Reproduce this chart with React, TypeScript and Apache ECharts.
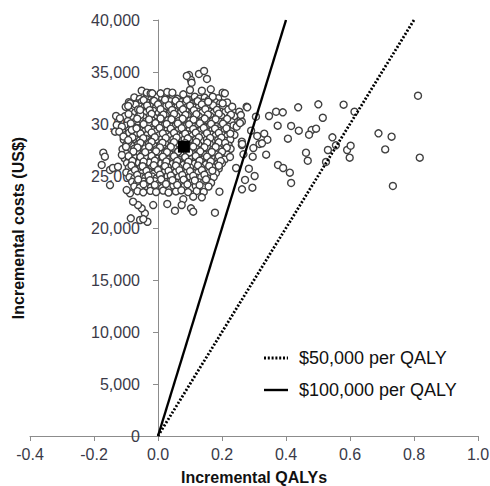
import React, { useEffect, useRef } from "react";
import * as echarts from "echarts";

// Axis ticks
const xMin = -0.4;
const xMax = 1.0;
const xStep = 0.2;
const yMin = 0;
const yMax = 40000;
const yStep = 5000;

// Willingness-to-pay thresholds (US$ per QALY)
const thresholdNames = ["$50,000 per QALY", "$100,000 per QALY"];
const thresholdValues = [50000, 100000];

// Mean incremental result
const meanPoint: [number, number] = [0.081, 27820];

// Dense core of the simulation cloud [incremental QALYs, incremental cost]
const coreA: [number, number][] = [
  [-0.074,32560],[-0.057,32410],[-0.036,32530],[-0.021,32380],[-0.003,32600],[0.013,32450],[0.031,32330],[0.047,32580],[0.06,32420],[0.082,32510],[0.095,32360],[0.115,32620],[0.131,32440],[0.146,32540],[0.167,32390],[0.188,32480],
  [-0.091,32100],[-0.066,31970],[-0.051,32130],[-0.03,32010],[-0.016,32160],[0.006,31950],[0.019,32080],[0.039,32190],[0.053,31990],[0.073,32110],[0.086,32020],[0.107,31930],[0.12,32150],[0.142,32040],[0.156,31960],[0.178,32120],[0.194,31980],[0.216,32070],
  [-0.101,31650],[-0.08,31520],[-0.058,31680],[-0.044,31560],[-0.023,31710],[-0.009,31490],[0.012,31620],[0.026,31740],[0.047,31540],[0.061,31660],[0.082,31500],[0.094,31700],[0.115,31580],[0.128,31650],[0.15,31530],[0.165,31690],[0.186,31570],[0.203,31640],
  [-0.087,31200],[-0.072,31080],[-0.05,31230],[-0.036,31110],[-0.015,31270],[0.002,31050],[0.016,31190],[0.038,31090],[0.052,31240],[0.072,31120],[0.087,31260],[0.106,31040],[0.124,31180],[0.138,31100],[0.159,31220],[0.174,31070],[0.195,31190],[0.21,31130],[0.234,31210],
  [-0.104,30740],[-0.082,30640],[-0.06,30770],[-0.046,30660],[-0.025,30800],[-0.012,30610],[0.01,30720],[0.024,30830],[0.045,30650],[0.058,30760],[0.08,30600],[0.093,30790],[0.114,30680],[0.128,30740],[0.15,30620],[0.163,30780],[0.185,30670],[0.198,30730],[0.222,30640],[0.238,30760],
  [-0.094,30290],[-0.074,30180],[-0.053,30320],[-0.039,30210],[-0.018,30350],[-0.004,30160],[0.018,30270],[0.032,30380],[0.053,30200],[0.066,30310],[0.088,30150],[0.101,30340],[0.122,30230],[0.136,30290],[0.158,30170],[0.172,30330],[0.194,30220],[0.208,30280],[0.23,30190],
  [-0.099,29840],[-0.084,29730],[-0.062,29870],[-0.049,29760],[-0.028,29900],[-0.014,29710],[0.008,29820],[0.022,29930],[0.043,29750],[0.056,29860],[0.078,29700],[0.091,29890],[0.112,29780],[0.126,29840],[0.148,29720],[0.162,29880],[0.184,29770],[0.198,29830],[0.221,29740],[0.236,29860],
  [-0.091,29390],[-0.076,29280],[-0.054,29420],[-0.041,29310],[-0.019,29450],[-0.006,29260],[0.016,29370],[0.03,29480],[0.051,29300],[0.064,29410],[0.086,29250],[0.099,29440],[0.12,29330],[0.134,29390],[0.156,29270],[0.17,29430],[0.192,29320],[0.208,29380],[0.228,29290],
];

const coreB: [number, number][] = [
  [-0.101,28940],[-0.08,28830],[-0.066,28970],[-0.045,28860],[-0.032,29000],[-0.01,28810],[0.004,28920],[0.026,29030],[0.039,28850],[0.06,28960],[0.074,28800],[0.095,28990],[0.108,28880],[0.13,28940],[0.144,28820],[0.166,28980],[0.18,28870],[0.202,28930],[0.216,28840],[0.239,28960],
  [-0.107,28490],[-0.092,28380],[-0.07,28520],[-0.057,28410],[-0.036,28550],[-0.022,28360],[-0.001,28470],[0.013,28580],[0.034,28400],[0.048,28510],[0.069,28350],[0.083,28540],[0.104,28430],[0.118,28490],[0.139,28370],[0.153,28530],[0.175,28420],[0.188,28480],[0.21,28390],[0.226,28510],
  [-0.099,28040],[-0.084,27930],[-0.062,28070],[-0.049,27960],[-0.028,28100],[-0.014,27910],[0.008,28020],[0.022,28130],[0.043,27950],[0.056,28060],[0.078,27900],[0.091,28090],[0.112,27980],[0.126,28040],[0.148,27920],[0.162,28080],[0.184,27970],[0.198,28030],[0.221,27940],
  [-0.111,27590],[-0.088,27480],[-0.074,27620],[-0.053,27510],[-0.04,27650],[-0.018,27460],[-0.005,27570],[0.017,27680],[0.03,27500],[0.052,27610],[0.065,27450],[0.087,27640],[0.1,27530],[0.122,27590],[0.135,27470],[0.157,27630],[0.171,27520],[0.192,27580],[0.208,27490],[0.227,27610],
  [-0.099,27140],[-0.084,27030],[-0.062,27170],[-0.049,27060],[-0.028,27200],[-0.014,27010],[0.008,27120],[0.022,27230],[0.043,27050],[0.056,27160],[0.078,27000],[0.091,27190],[0.112,27080],[0.126,27140],[0.148,27020],[0.162,27180],[0.184,27070],[0.198,27130],[0.217,27040],
  [-0.104,26690],[-0.091,26580],[-0.07,26720],[-0.057,26610],[-0.036,26750],[-0.022,26560],[-0.001,26670],[0.013,26780],[0.034,26600],[0.048,26710],[0.069,26550],[0.083,26740],[0.104,26630],[0.118,26690],[0.139,26570],[0.153,26730],[0.175,26620],[0.188,26680],[0.208,26590],
  [-0.097,26240],[-0.082,26130],[-0.06,26270],[-0.047,26160],[-0.026,26300],[-0.012,26110],[0.01,26220],[0.023,26330],[0.045,26150],[0.058,26260],[0.08,26100],[0.093,26290],[0.114,26180],[0.128,26240],[0.15,26120],[0.164,26280],[0.186,26170],[0.2,26230],
  [-0.091,25790],[-0.074,25680],[-0.053,25820],[-0.04,25710],[-0.018,25850],[-0.005,25660],[0.017,25770],[0.03,25880],[0.052,25700],[0.065,25810],[0.087,25650],[0.1,25840],[0.122,25730],[0.135,25790],[0.157,25670],[0.171,25830],[0.19,25720],
  [-0.099,25340],[-0.084,25230],[-0.062,25370],[-0.049,25260],[-0.028,25400],[-0.014,25210],[0.008,25320],[0.022,25430],[0.043,25250],[0.056,25360],[0.078,25200],[0.091,25390],[0.112,25280],[0.126,25340],[0.148,25220],[0.162,25380],[0.181,25270],
  [-0.089,24890],[-0.074,24780],[-0.053,24920],[-0.04,24810],[-0.018,24950],[-0.005,24760],[0.017,24870],[0.03,24980],[0.052,24800],[0.065,24910],[0.087,24750],[0.1,24940],[0.122,24830],[0.135,24890],[0.157,24770],[0.174,24900],
  [-0.081,24440],[-0.066,24330],[-0.045,24470],[-0.032,24360],[-0.01,24500],[0.004,24310],[0.026,24420],[0.039,24530],[0.06,24350],[0.074,24460],[0.095,24300],[0.108,24490],[0.13,24380],[0.144,24440],[0.166,24340],
  [-0.074,23990],[-0.057,23880],[-0.036,24020],[-0.022,23910],[-0.001,24050],[0.013,23860],[0.034,23970],[0.048,24080],[0.069,23900],[0.083,24010],[0.104,23850],[0.118,24040],[0.141,23930],[0.158,23990],
  [-0.064,23540],[-0.046,23430],[-0.024,23570],[-0.006,23460],[0.016,23600],[0.033,23410],[0.056,23520],[0.073,23630],[0.094,23450],[0.121,23560],[0.143,23470],
];

// Additional interleaved draws in the densest part of the cloud
const coreC: [number, number][] = [
  [-0.045,32300],[-0.012,32220],[0.022,32340],[0.055,32250],[0.09,32310],[0.124,32200],[0.158,32290],
  [-0.07,31860],[-0.034,31780],[0.0,31890],[0.034,31810],[0.068,31850],[0.1,31770],[0.137,31880],[0.172,31800],
  [-0.062,31400],[-0.026,31330],[0.008,31430],[0.044,31350],[0.078,31410],[0.112,31320],[0.148,31420],[0.184,31360],[0.22,31390],
  [-0.092,30960],[-0.055,30890],[-0.02,30980],[0.017,30900],[0.05,30970],[0.086,30880],[0.12,30950],[0.156,30910],[0.19,30990],[0.228,30900],
  [-0.065,30510],[-0.028,30440],[0.008,30530],[0.042,30450],[0.077,30500],[0.111,30420],[0.146,30520],[0.18,30460],[0.216,30490],
  [-0.085,30060],[-0.045,29990],[-0.008,30080],[0.027,30000],[0.062,30050],[0.097,29970],[0.131,30070],[0.166,30010],[0.203,30040],
  [-0.066,29610],[-0.03,29540],[0.005,29630],[0.04,29550],[0.074,29600],[0.11,29520],[0.143,29620],[0.178,29560],[0.214,29590],
  [-0.09,29160],[-0.055,29090],[-0.02,29180],[0.015,29100],[0.05,29150],[0.085,29070],[0.118,29170],[0.153,29110],[0.19,29140],[0.226,29080],
  [-0.08,28710],[-0.046,28640],[-0.01,28730],[0.024,28650],[0.058,28700],[0.093,28620],[0.128,28720],[0.163,28660],[0.198,28690],
  [-0.092,28260],[-0.055,28190],[-0.02,28280],[0.014,28200],[0.05,28250],[0.085,28170],[0.12,28270],[0.154,28210],[0.19,28240],[0.21,28180],
  [-0.1,27810],[-0.064,27740],[-0.028,27830],[0.006,27750],[0.04,27800],[0.075,27720],[0.11,27820],[0.145,27760],[0.18,27790],[0.215,27730],
  [-0.077,27360],[-0.04,27290],[-0.006,27380],[0.028,27300],[0.063,27350],[0.098,27270],[0.132,27370],[0.168,27310],[0.2,27340],
  [-0.092,26910],[-0.055,26840],[-0.02,26930],[0.015,26850],[0.05,26900],[0.085,26820],[0.118,26920],[0.153,26860],[0.19,26890],
  [-0.08,26460],[-0.045,26390],[-0.01,26480],[0.026,26400],[0.06,26450],[0.095,26370],[0.13,26470],[0.165,26410],[0.196,26440],
  [-0.083,26010],[-0.048,25940],[-0.013,26030],[0.022,25950],[0.056,26000],[0.09,25920],[0.125,26020],[0.16,25960],[0.19,25990],
  [-0.072,25560],[-0.036,25490],[0.0,25580],[0.033,25500],[0.067,25550],[0.1,25470],[0.137,25570],[0.17,25510],
  [-0.065,25110],[-0.03,25040],[0.006,25130],[0.04,25050],[0.076,25100],[0.11,25020],[0.145,25120],
  [-0.062,24660],[-0.025,24590],[0.01,24680],[0.045,24600],[0.08,24650],[0.115,24570],[0.15,24670],
  [-0.045,24210],[-0.01,24140],[0.025,24230],[0.06,24150],[0.092,24200],[0.13,24120],
];

// Fringe of the cloud
const fringe: [number, number][] = [
  [0.097,34710],[0.128,34810],[0.144,35100],[0.153,34330],[0.103,34230],[0.09,34620],[0.105,33970],
  [0.137,33200],[0.165,33340],[0.202,33010],[0.209,32950],[0.171,32620],[0.157,32140],[0.202,31990],
  [0.232,31660],[0.254,31180],[0.277,31660],[0.258,30380],[0.246,29740],[0.262,28300],[0.262,27980],
  [0.225,26830],[0.244,25770],[0.192,23490],[0.178,21470],[0.137,22950],[0.11,23010],[0.079,22760],
  [0.103,21890],[0.11,21570],[0.074,22210],[0.053,21660],[0.029,22310],[-0.015,22210],[-0.041,21410],
  [-0.051,21890],[-0.0625,22210],[-0.078,22530],[-0.0875,23340],[-0.098,23650],[-0.056,20770],
  [-0.033,20600],[-0.085,20930],[-0.046,20860],[-0.15,24130],[-0.15,25580],[-0.141,25770],[-0.125,25890],
  [-0.176,26060],[-0.171,27240],[-0.166,26860],[-0.113,27020],
  [-0.051,33200],[-0.035,33010],[-0.023,32950],[-0.0875,31990],[-0.093,31730],[-0.056,31350],
  [-0.131,30770],[-0.119,30550],[-0.129,29900],[-0.113,29740],[-0.134,29260],[-0.121,29260],
  [-0.082,29420],[-0.067,29580],[-0.108,28800],[-0.093,28460],[-0.018,32950],[0.008,32950],
  [0.029,33080],[0.045,33010],[0.079,32850],[0.1,33270],
];

// Scattered points to the right of the cloud
const outliers: [number, number][] = [
  [0.279,31600],[0.306,30700],[0.347,30770],[0.369,31180],[0.39,31120],[0.438,31600],[0.501,31890],
  [0.58,31860],[0.614,31180],[0.8125,32720],[0.515,30600],[0.374,29840],[0.416,29810],[0.44,29360],
  [0.48,29420],[0.494,29550],[0.472,28970],[0.406,28590],[0.332,29070],[0.342,28490],[0.31,28850],
  [0.291,29360],[0.317,28080],[0.298,27690],[0.296,26860],[0.338,27050],[0.284,25700],[0.302,25000],
  [0.295,23880],[0.272,24620],[0.375,26060],[0.391,25770],[0.412,25320],[0.416,24330],[0.4625,27240],
  [0.468,26470],[0.545,28720],[0.531,27500],[0.556,27950],[0.525,26350],[0.591,27500],[0.602,27910],
  [0.599,26760],[0.689,29100],[0.73,28780],[0.71,27560],[0.818,26760],[0.734,24040],
  [0.259,30860],[0.262,30220],[0.263,28080],[0.325,28140],[0.267,27090],[0.2625,23720],[0.256,30090],
];

const FONT = "'Liberation Sans', Arial, Helvetica, sans-serif";

export default function App() {
  const ref = useRef<HTMLDivElement>(null);

  useEffect(() => {
    if (!ref.current) return;
    const chart = echarts.init(ref.current, undefined, { renderer: "svg" });
    const simulations = [...coreA, ...coreB, ...coreC, ...fringe, ...outliers];
    const lineStyles = [
      { color: "#000", width: 2.8, type: [2, 1.8], cap: "butt" },
      { color: "#000", width: 2.4, type: "solid" },
    ];
    const lineSeries = thresholdNames.map((name, i) => ({
      type: "line" as const,
      name,
      data: [
        [0, 0],
        [yMax / thresholdValues[i], yMax],
      ],
      symbol: "none",
      silent: true,
      z: 3,
      lineStyle: lineStyles[i],
    }));

    // Legend drawn as graphic elements
    const legendX = 264;
    const legendY = [358, 390];
    const legendGraphics: any[] = [];
    thresholdNames.forEach((name, i) => {
      legendGraphics.push({
        type: "line",
        shape: { x1: legendX, y1: legendY[i], x2: legendX + 24, y2: legendY[i] },
        style: {
          stroke: "#000",
          lineWidth: lineStyles[i].width,
          lineDash: i === 0 ? [2, 1.8] : null,
        },
        silent: true,
      });
      legendGraphics.push({
        type: "text",
        x: legendX + 35,
        y: legendY[i],
        style: {
          text: name,
          fontSize: 18,
          fontFamily: FONT,
          fill: "#111",
          verticalAlign: "middle",
          align: "left",
        },
        silent: true,
      });
    });

    chart.setOption({
      animation: false,
      backgroundColor: "#fff",
      textStyle: { fontFamily: FONT },
      grid: {
        left: 30,
        right: 12,
        top: 20,
        bottom: 50,
        containLabel: false,
        outerBoundsMode: "none",
      },
      graphic: legendGraphics,
      xAxis: {
        type: "value",
        min: xMin,
        max: xMax,
        interval: xStep,
        name: "Incremental QALYs",
        nameLocation: "middle",
        nameGap: 33,
        nameTextStyle: { fontWeight: "bold", fontSize: 16, color: "#111", fontFamily: FONT },
        axisLine: { onZero: true, lineStyle: { color: "#8c8c8c", width: 1 } },
        axisTick: { show: true, length: 5, lineStyle: { color: "#8c8c8c" } },
        axisLabel: {
          fontSize: 16,
          color: "#3a3a48",
          margin: 10,
          fontFamily: FONT,
          formatter: (v: number) => (Math.abs(v) < 1e-9 ? 0 : v).toFixed(1),
        },
        splitLine: { show: false },
      },
      yAxis: {
        type: "value",
        min: yMin,
        max: yMax,
        interval: yStep,
        // place the axis at x = 0 of the QALY scale (grid left 30 + 0.4 * 320)
        offset: -128,
        name: "Incremental costs (US$)",
        nameLocation: "middle",
        nameGap: 132,
        nameRotate: 90,
        nameTextStyle: { fontWeight: "bold", fontSize: 16, color: "#111", fontFamily: FONT },
        axisLine: { show: true, onZero: false, lineStyle: { color: "#8c8c8c", width: 1 } },
        axisTick: { show: true, length: 5, lineStyle: { color: "#8c8c8c" } },
        axisLabel: {
          fontSize: 16,
          color: "#3a3a48",
          margin: 18,
          fontFamily: FONT,
          formatter: (v: number) => v.toLocaleString("en-US"),
        },
        splitLine: { show: false },
      },
      series: [
        {
          type: "scatter",
          name: "Simulations",
          data: simulations,
          symbol: "circle",
          symbolSize: 7,
          silent: true,
          z: 2,
          itemStyle: { color: "#fff", borderColor: "#404040", borderWidth: 1.4, opacity: 1 },
        },
        ...lineSeries,
        {
          type: "scatter",
          name: "Mean",
          data: [meanPoint],
          symbol: "rect",
          symbolSize: 12,
          silent: true,
          z: 10,
          itemStyle: { color: "#000", opacity: 1 },
        },
      ],
    });
    return () => chart.dispose();
  }, []);

  return (
    <div
      ref={ref}
      style={{ position: "absolute", left: 0, top: 0, width: 490, height: 486 }}
    />
  );
}
